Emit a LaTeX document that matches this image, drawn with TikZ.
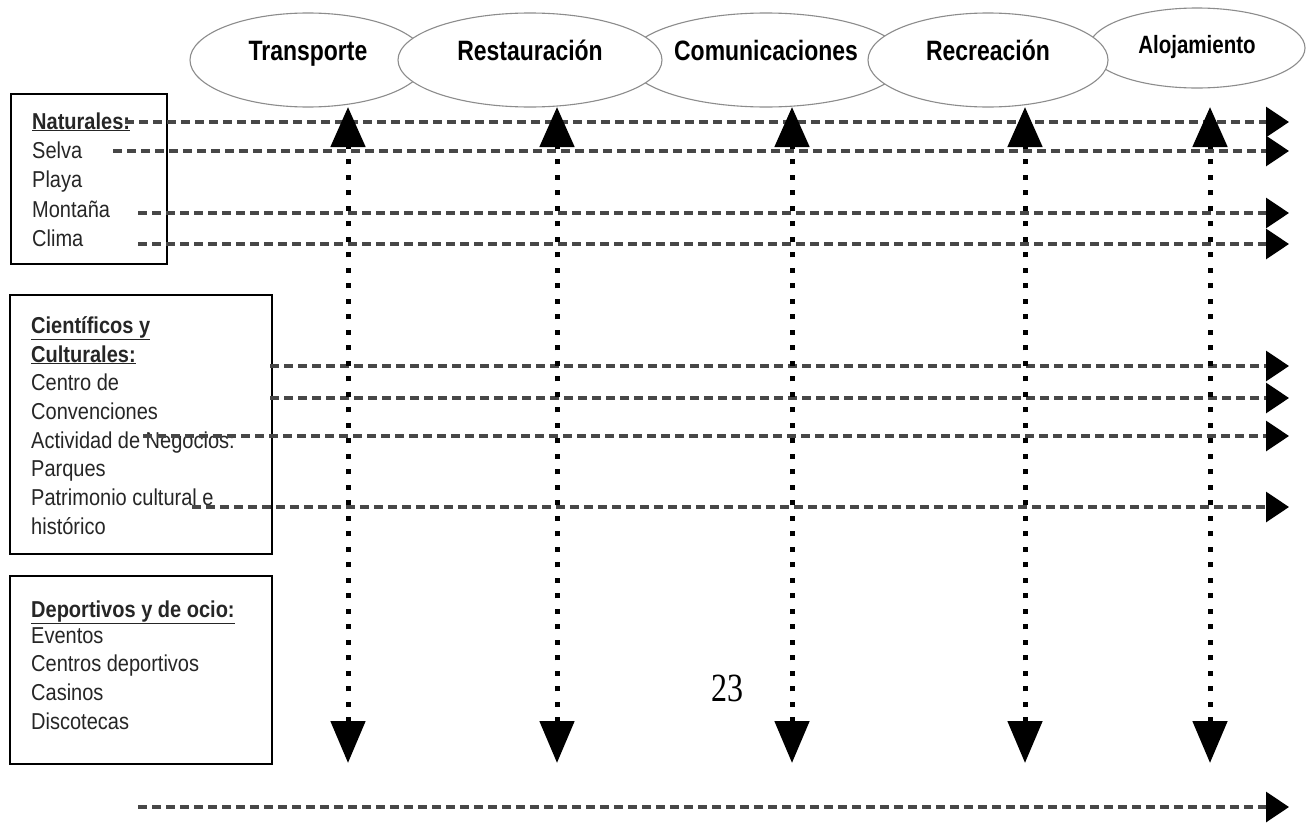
\documentclass[tikz,border=0pt]{standalone}
\usepackage{fontspec}
\setmainfont{Liberation Sans}[FakeStretch=0.87]
\newfontfamily\hdfont{Liberation Sans}[FakeStretch=0.82]
\newfontfamily\numfont{Liberation Serif}[FakeStretch=0.80]
\usetikzlibrary{arrows.meta,shapes.geometric}
\begin{document}
\begin{tikzpicture}[x=1pt,y=-1pt,
  oval/.style={ellipse, draw=black!45, line width=1.1pt, fill=white, inner sep=0pt,
     text height=10pt, text depth=10pt, font=\hdfont\bfseries\fontsize{28}{30}\selectfont},
  catbox/.style={draw=black, line width=1.8pt, anchor=north west, inner sep=0pt},
  itm/.style={anchor=base west, inner sep=0pt, font=\fontsize{23}{27}\selectfont, text=black!85},
  hline/.style={draw=black!72, line width=3.2pt, dash pattern=on 9pt off 5pt,
     -{Triangle[length=23pt,width=30pt,black]}},
  vline/.style={draw=black, line width=5pt, dash pattern=on 5pt off 10.5pt,
     {Triangle[length=42pt,width=34pt]}-{Triangle[length=40pt,width=34pt]}}
]
\useasboundingbox[fill=white] (0,0) rectangle (1309,830);

% ellipses (drawing order gives the overlaps)
\node[oval, minimum width=236pt, minimum height=94pt] (tra) at (308,60) {Transporte};
\node[oval, minimum width=276pt, minimum height=94pt] (com) at (766,60) {Comunicaciones};
\node[oval, minimum width=216pt, minimum height=80pt, text height=10pt, text depth=0pt, font=\hdfont\bfseries\fontsize{25}{28}\selectfont] (alo) at (1197,48) {Alojamiento};
\node[oval, minimum width=264pt, minimum height=94pt] (res) at (530,60) {Restauración};
\node[oval, minimum width=240pt, minimum height=94pt] (rec) at (988,60) {Recreación};

% category boxes
\node[catbox, minimum width=156pt, minimum height=170pt] (box1) at (10,93) {};
\node[catbox, minimum width=262pt, minimum height=259pt] (box2) at (9,294) {};
\node[catbox, minimum width=262pt, minimum height=188pt] (box3) at (9,575) {};

% box 1 text
\node[itm] (n0) at (32,129) {\bfseries\underline{Naturales:}};
\node[itm] (n1) at (32,158) {Selva};
\node[itm] (n2) at (32,187.5) {Playa};
\node[itm] (n3) at (32,217) {Montaña};
\node[itm] (n4) at (32,246) {Clima};

% box 2 text
\node[itm] (c0) at (31,333) {\bfseries\underline{Científicos y}};
\node[itm] (c1) at (31,362) {\bfseries\underline{Culturales:}};
\node[itm] (c2) at (31,390.5) {Centro de};
\node[itm] (c3) at (31,419) {Convenciones};
\node[itm] (c4) at (31,448) {Actividad de Negocios:};
\node[itm] (c5) at (31,476.5) {Parques};
\node[itm] (c6) at (31,505) {Patrimonio cultural e};
\node[itm] (c7) at (31,534) {histórico};

% box 3 text
\node[itm] (d0) at (31,617) {\bfseries\underline{Deportivos y de ocio:}};
\node[itm] (d1) at (31,643) {Eventos};
\node[itm] (d2) at (31,671.5) {Centros deportivos};
\node[itm] (d3) at (31,700) {Casinos};
\node[itm] (d4) at (31,729) {Discotecas};

% page number
\node[inner sep=0pt, font=\numfont\fontsize{40}{44}\selectfont] (pg) at (727,688) {23};

% horizontal dashed connectors
\foreach \i/\xs/\yy in {1/125/122, 2/113/151, 3/138/213, 4/138/244, 5/270/366, 6/270/398, 7/143/436, 8/192/507, 9/138/807}{
  \coordinate (hs\i) at (\xs,\yy);
  \coordinate (he\i) at (1289,\yy);
  \draw[hline] (hs\i) -- (he\i);
}

% vertical dotted double arrows
\foreach \i/\xx in {1/348, 2/557, 3/792, 4/1025, 5/1210}{
  \coordinate (vb\i) at (\xx,763);
  \coordinate (vt\i) at (\xx,107);
  \draw[vline] (vb\i) -- (vt\i);
}
\end{tikzpicture}
\end{document}
